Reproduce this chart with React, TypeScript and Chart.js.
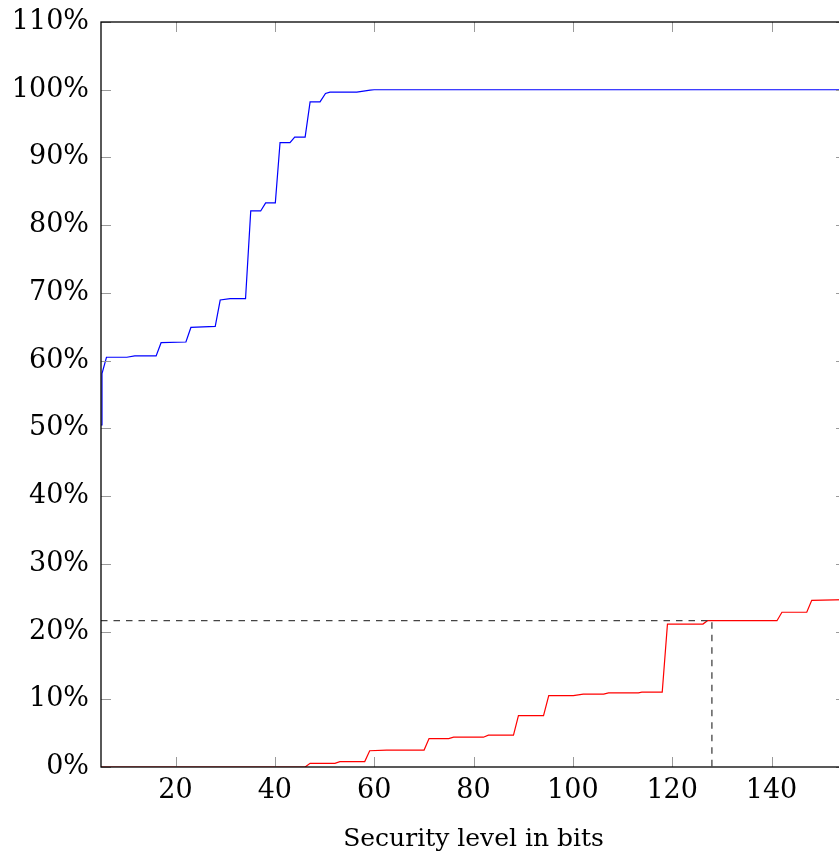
import { useEffect, useRef } from "react";
import { Chart, registerables } from "chart.js";

Chart.register(...registerables);

// Axis ranges and tick values
const X_MIN = 5;
const X_MAX = 155;
const Y_MIN = 0;
const Y_MAX = 110;
const xTickValues = [20, 40, 60, 80, 100, 120, 140];
const yTickValues = [0, 10, 20, 30, 40, 50, 60, 70, 80, 90, 100, 110];
const xAxisTitle = "Security level in bits";

// Blue series (cumulative share, %)
const blueX = [5.0, 5.2, 6.1, 10.2, 11.8, 16.1, 17.1, 22.1, 23.1, 28.0, 29.0, 31.0, 34.1, 35.15, 37.15, 38.15, 40.1, 41.05, 43.05, 44.0, 46.1, 47.1, 49.1, 50.2, 51.1, 56.5, 59.2, 60, 155];
const blueY = [50.5, 58.1, 60.5, 60.5, 60.7, 60.7, 62.65, 62.75, 64.9, 65.05, 68.95, 69.15, 69.15, 82.1, 82.1, 83.3, 83.3, 92.2, 92.2, 93.0, 93.0, 98.2, 98.2, 99.45, 99.65, 99.65, 99.95, 100, 100];

// Red series (cumulative share, %)
const redX = [5, 46.1, 47.1, 52.1, 53.1, 58.1, 59.1, 62.5, 70.05, 71.05, 75.0, 76.0, 82.0, 83.0, 88.05, 89.05, 94.1, 95.15, 100.1, 102.1, 106.2, 107.2, 113.2, 113.9, 118.0, 119.05, 126.2, 127.1, 141.1, 142.1, 147.1, 148.1, 155];
const redY = [0, 0, 0.55, 0.55, 0.8, 0.8, 2.4, 2.5, 2.5, 4.2, 4.2, 4.4, 4.4, 4.7, 4.7, 7.6, 7.6, 10.55, 10.55, 10.75, 10.75, 10.95, 10.95, 11.05, 11.05, 21.1, 21.1, 21.6, 21.6, 22.85, 22.85, 24.6, 24.7];

// Dashed reference marker
const markerBits = 128;
const markerShare = 21.6;

const FONT = '"DejaVu Serif", serif';

const toPoints = (xs: number[], ys: number[]) => xs.map((x, i) => ({ x, y: ys[i] }));

const framePlugin = {
  id: "frameTicks",
  afterDatasetsDraw(chart: any) {
    const { ctx, chartArea, scales } = chart;
    const { left, right, top, bottom } = chartArea;
    const xs = scales.x;
    const ys = scales.y;
    const len = 10;
    ctx.save();
    ctx.strokeStyle = "#9a9a9a";
    ctx.lineWidth = 1;
    ctx.beginPath();
    xTickValues.forEach((v) => {
      const px = Math.round(xs.getPixelForValue(v)) + 0.5;
      ctx.moveTo(px, bottom);
      ctx.lineTo(px, bottom - len);
      ctx.moveTo(px, top);
      ctx.lineTo(px, top + len);
    });
    yTickValues.forEach((v) => {
      const py = Math.round(ys.getPixelForValue(v)) + 0.5;
      ctx.moveTo(left, py);
      ctx.lineTo(left + len, py);
      ctx.moveTo(right, py);
      ctx.lineTo(right - len, py);
    });
    ctx.stroke();
    ctx.strokeStyle = "#000";
    ctx.lineWidth = 1.3;
    ctx.strokeRect(left, top, right - left, bottom - top);
    ctx.restore();
  },
};

export default function App() {
  const ref = useRef<HTMLCanvasElement | null>(null);

  useEffect(() => {
    if (!ref.current) return;
    const chart = new Chart(ref.current, {
      type: "line",
      data: {
        datasets: [
          {
            label: "marker",
            data: [
              { x: X_MIN, y: markerShare },
              { x: markerBits, y: markerShare },
              { x: markerBits, y: Y_MIN },
            ],
            borderColor: "#444444",
            borderWidth: 1.3,
            borderDash: [6.5, 6],
            pointRadius: 0,
            tension: 0,
          },
          {
            label: "blue",
            data: toPoints(blueX, blueY),
            borderColor: "#0000ff",
            borderWidth: 1.2,
            pointRadius: 0,
            tension: 0,
          },
          {
            label: "red",
            data: toPoints(redX, redY),
            borderColor: "#ff0000",
            borderWidth: 1.2,
            pointRadius: 0,
            tension: 0,
          },
        ],
      },
      options: {
        animation: false,
        responsive: false,
        devicePixelRatio: 1,
        parsing: false as any,
        layout: { padding: { left: 0, top: 22, right: 24, bottom: 0 } },
        plugins: { legend: { display: false }, tooltip: { enabled: false } },
        scales: {
          x: {
            type: "linear",
            min: X_MIN,
            max: X_MAX,
            grid: { display: false, drawTicks: false },
            border: { display: false },
            afterBuildTicks: (s: any) => {
              s.ticks = xTickValues.map((v) => ({ value: v }));
            },
            afterFit: (s: any) => {
              s.height = 94;
              s.paddingLeft = 0;
              s.paddingRight = 0;
            },
            ticks: {
              font: { family: FONT, size: 27 },
              color: "#000",
              padding: 8,
              maxRotation: 0,
              autoSkip: false,
            },
            title: {
              display: true,
              text: xAxisTitle,
              font: { family: FONT, size: 25 },
              color: "#000",
              padding: { top: 0, bottom: 7 },
            },
          },
          y: {
            type: "linear",
            min: Y_MIN,
            max: Y_MAX,
            grid: { display: false, drawTicks: false },
            border: { display: false },
            afterBuildTicks: (s: any) => {
              s.ticks = yTickValues.map((v) => ({ value: v }));
            },
            afterFit: (s: any) => {
              s.width = 101;
              s.paddingTop = 0;
              s.paddingBottom = 0;
            },
            ticks: {
              font: { family: FONT, size: 27 },
              color: "#000",
              padding: 12,
              autoSkip: false,
              callback: (v: any) => `${v}%`,
            },
          },
        },
      },
      plugins: [framePlugin],
    });
    return () => chart.destroy();
  }, []);

  return (
    <div
      style={{
        position: "fixed",
        left: 0,
        top: 0,
        width: 839,
        height: 861,
        overflow: "hidden",
        background: "#fff",
      }}
    >
      <canvas ref={ref} width={870} height={861} style={{ display: "block" }} />
    </div>
  );
}
